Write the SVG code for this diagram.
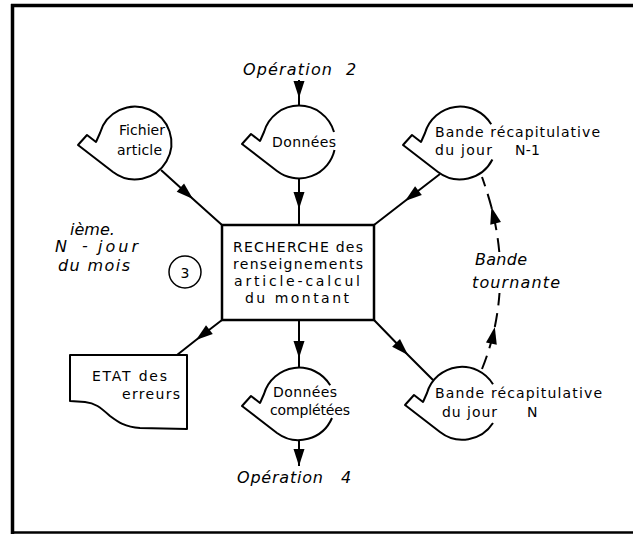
<svg xmlns="http://www.w3.org/2000/svg" width="633" height="534" viewBox="0 0 633 534">
  <style>
    .ln { fill: none; stroke: #000; stroke-width: 2; stroke-linejoin: round; }
    .frame { fill: none; stroke: #000; }
    .dash { fill: none; stroke: #000; stroke-width: 2; stroke-dasharray: 14 8; }
    .t { font-family: "DejaVu Sans", "Liberation Sans", sans-serif; font-size: 14px; fill: #000; }
    .it { font-family: "DejaVu Sans", "Liberation Sans", sans-serif; font-style: italic; font-size: 16px; fill: #000; }
    .conn { fill: none; stroke: #000; stroke-width: 2; marker-mid: url(#arrow); }
  </style>
  <defs>
    <marker id="arrow" markerUnits="userSpaceOnUse" markerWidth="20" markerHeight="14" viewBox="-18 -7 20 14" refX="0" refY="0" orient="auto">
      <path d="M-17,-5.5 L0,0 L-17,5.5 Z" fill="#000"/>
    </marker>
    <marker id="arrowEnd" markerUnits="userSpaceOnUse" markerWidth="20" markerHeight="14" viewBox="-18 -7 20 14" refX="0" refY="0" orient="auto">
      <path d="M-17,-5.5 L0,0 L-17,5.5 Z" fill="#000"/>
    </marker>
  </defs>

  <rect width="633" height="534" fill="#fff"/>

  <!-- sheet border -->
  <g id="border">
    <line class="frame" x1="12.5" y1="4" x2="12.5" y2="534" stroke-width="3.5"/>
    <line class="frame" x1="11" y1="5.5" x2="633" y2="5.5" stroke-width="3.5"/>
    <line class="frame" x1="11" y1="532.5" x2="633" y2="532.5" stroke-width="2.5"/>
  </g>

  <!-- connectors -->
  <g id="connectors">
    <path class="ln" d="M299,80 L299,98" marker-end="url(#arrowEnd)"/>
    <path class="ln" d="M299,98 L299,106"/>
    <path class="conn" d="M161,170 L193,199 L222,225"/>
    <path class="conn" d="M299,179 L299,209 L299,225"/>
    <path class="conn" d="M440,174 L405,201 L374,225"/>
    <path class="conn" d="M222,320 L196,340 L177,355"/>
    <path class="conn" d="M299,320 L299,358 L299,368"/>
    <path class="conn" d="M374,320 L408,355 L433,380"/>
    <path class="ln" d="M299,440 L299,466" marker-end="url(#arrowEnd)"/>
    <!-- rotating tape: day N back to day N-1 -->
    <path class="dash" d="M482,369 Q490.6,347.5 494.8,327" marker-end="url(#arrowEnd)"/>
    <path class="dash" d="M494.8,327 Q498.3,309.9 499.5,293"/>
    <path class="dash" d="M499.3,252 Q497.2,229.6 491.4,207" marker-end="url(#arrowEnd)"/>
    <path class="dash" d="M491.4,207 Q487.5,192.5 482,177"/>
  </g>

  <!-- free labels -->
  <g id="op2">
    <text class="it" x="243" y="75" textLength="89" lengthAdjust="spacing">Opération</text>
    <text class="it" x="346" y="75">2</text>
  </g>
  <g id="op4">
    <text class="it" x="237" y="483" textLength="86" lengthAdjust="spacing">Opération</text>
    <text class="it" x="341" y="483">4</text>
  </g>
  <g id="day-label">
    <text class="it" x="55" y="252" font-size="15">N</text>
    <text class="it" x="70" y="235" font-size="12">ième.</text>
    <text class="it" x="82" y="251" font-size="10">-</text>
    <text class="it" x="98" y="252" font-size="15" textLength="40">jour</text>
    <text class="it" x="58" y="271" font-size="15" textLength="72">du mois</text>
  </g>
  <g id="step-number">
    <circle cx="185" cy="272" r="16" fill="none" stroke="#000" stroke-width="1.5"/>
    <text class="t" x="185" y="278" font-size="17" text-anchor="middle">3</text>
  </g>
  <g id="rotating-tape-label">
    <text class="it" x="475" y="265" font-size="15" textLength="52">Bande</text>
    <text class="it" x="472" y="288" font-size="15" textLength="88">tournante</text>
  </g>

  <!-- magnetic tape: Fichier article -->
  <g id="fichier-article" transform="translate(135,143)">
    <path class="ln" d="M-22,29 L-57,2 L-48,-8 L-39,-1 L-35,-10 A36.4,36.4 0 1 1 -22,29"/>
    <text class="t" x="-16" y="-8" textLength="46">Fichier</text>
    <text class="t" x="-18" y="12" textLength="45">article</text>
  </g>

  <!-- magnetic tape: Données -->
  <g id="donnees" transform="translate(299,142)">
    <path class="ln" d="M35.5,8 A36.4,36.4 0 0 1 -22,29 L-57,2 L-48,-8 L-39,-1 L-35,-10 A36.4,36.4 0 0 1 35,-10"/>
    <text class="t" x="-27" y="5" font-size="14.5" textLength="64">Données</text>
  </g>

  <!-- magnetic tape: Bande récapitulative du jour N-1 -->
  <g id="bande-n-1" transform="translate(460,143)">
    <path class="ln" d="M32.4,16.5 A36.4,36.4 0 0 1 -22,29 L-57,2 L-48,-8 L-39,-1 L-35,-10 A36.4,36.4 0 0 1 31.2,-18.7"/>
    <text class="t" x="-25" y="-6" textLength="165">Bande récapitulative</text>
    <text class="t" x="-25" y="12" textLength="57">du jour</text>
    <text class="t" x="55" y="12" textLength="25">N-1</text>
  </g>

  <!-- processing: RECHERCHE -->
  <g id="recherche">
    <rect x="222" y="225" width="152" height="95" fill="#fff" stroke="#000" stroke-width="2.5"/>
    <text class="t" x="298" y="252" font-size="13.5" text-anchor="middle" textLength="130">RECHERCHE des</text>
    <text class="t" x="298" y="269" font-size="13.5" text-anchor="middle" textLength="130">renseignements</text>
    <text class="t" x="297" y="286" font-size="13.5" text-anchor="middle" textLength="126">article-calcul</text>
    <text class="t" x="297" y="303" font-size="13.5" text-anchor="middle" textLength="104">du montant</text>
  </g>

  <!-- document: ETAT des erreurs -->
  <g id="etat-erreurs">
    <path class="ln" d="M70,355 H187 V429 L140,428 C125,427 118,422 110,416 C100,407 95,403 85,402 L70,401 Z" fill="#fff"/>
    <text class="t" x="92" y="381" textLength="75">ETAT des</text>
    <text class="t" x="122" y="399" textLength="58">erreurs</text>
  </g>

  <!-- magnetic tape: Données complétées -->
  <g id="donnees-completees" transform="translate(299,404)">
    <path class="ln" d="M33,14 A36.4,36.4 0 0 1 -22,29 L-57,2 L-48,-8 L-39,-1 L-35,-10 A36.4,36.4 0 0 1 31.2,-18.7"/>
    <text class="t" x="-26" y="-7" font-size="14.5" textLength="64">Données</text>
    <text class="t" x="-29" y="11" font-size="14.5" textLength="80">complétées</text>
  </g>

  <!-- magnetic tape: Bande récapitulative du jour N -->
  <g id="bande-n" transform="translate(462,403)">
    <path class="ln" d="M31,20 A36.4,36.4 0 0 1 -22,29 L-57,2 L-48,-8 L-39,-1 L-35,-10 A36.4,36.4 0 0 1 31,-18.7"/>
    <text class="t" x="-27" y="-5" textLength="167">Bande récapitulative</text>
    <text class="t" x="-20" y="14" textLength="55">du jour</text>
    <text class="t" x="65" y="14">N</text>
  </g>
</svg>
